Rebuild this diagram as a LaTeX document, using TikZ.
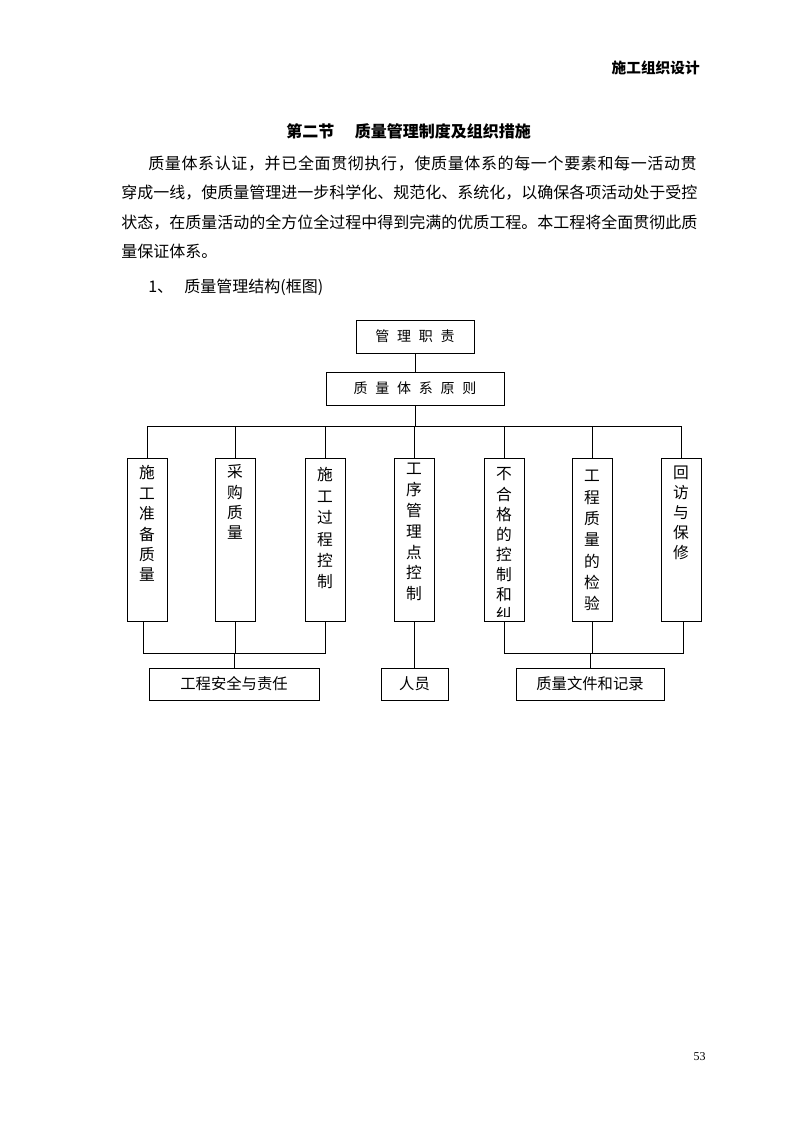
\documentclass[tikz,border=0pt]{standalone}
\usepackage{fontspec}
\setmainfont{Noto Sans CJK SC}
\newfontfamily\numfont{Liberation Serif}
\newcommand\vchars[5]{\foreach \c [count=\i] in {#5} {\node[vch] (#1c\i) at (#2,{#3+(\i-1)*#4}) {\c};}}
\tikzset{
  ln/.style={line width=0.75pt},
  box/.style={draw, line width=0.75pt, rectangle, inner sep=0pt},
  vbox/.style={box, minimum width=30pt, minimum height=122.25pt},
  vch/.style={inner sep=0pt, font=\fontsize{11.8pt}{11.8pt}\selectfont, text height=10.38pt, text depth=1.42pt},
  topbox/.style={box, minimum height=24.75pt, font=\fontsize{10.5pt}{10.5pt}\selectfont, text height=9.24pt, text depth=1.26pt},
  botbox/.style={box, minimum height=24pt, font=\fontsize{11.5pt}{11.5pt}\selectfont, text height=10.12pt, text depth=1.38pt},
  para/.style={inner sep=0pt, anchor=base west, font=\fontsize{12pt}{12pt}\selectfont},
}
\newcommand\gp{\hspace{5.8pt}}
\begin{document}
\begin{tikzpicture}[x=0.75pt,y=-0.75pt]
\useasboundingbox (0,0) rectangle (793,1122);
% header
\node[inner sep=0pt, anchor=base east, font=\fontsize{11pt}{11pt}\selectfont\bfseries] (hdr) at (700,73.6) {施工组织设计};
% title
\node[inner sep=0pt, anchor=base west, font=\fontsize{12pt}{12pt}\selectfont\bfseries] (title) at (286,137) {第二节\hspace{15.5pt}质量管理制度及组织措施};
% paragraph
\node[para] (p1) at (148,169) {\addfontfeature{LetterSpace=4}质量体系认证，并已全面贯彻执行，使质量体系的每一个要素和每一活动贯};
\node[para] (p2) at (121,198) {穿成一线，使质量管理进一步科学化、规范化、系统化，以确保各项活动处于受控};
\node[para] (p3) at (121,228) {状态，在质量活动的全方位全过程中得到完满的优质工程。本工程将全面贯彻此质};
\node[para] (p4) at (121,257) {量保证体系。};
\node[para] (p5) at (148,292) {1、\hspace{8.5pt}质量管理结构(框图)};
% top boxes
\node[topbox, minimum width=88.5pt] (t1) at (415,336.5) {管\gp 理\gp 职\gp 责};
\node[topbox, minimum width=133.5pt] (t2) at (415,388.5) {质\gp 量\gp 体\gp 系\gp 原\gp 则};
% vertical boxes
\node[vbox] (v1) at (147,539.5) {};
\node[vbox] (v2) at (235,539.5) {};
\node[vbox] (v3) at (325,539.5) {};
\node[vbox] (v4) at (414,539.5) {};
\node[vbox] (v5) at (504,539.5) {};
\node[vbox] (v6) at (592,539.5) {};
\node[vbox] (v7) at (681,539.5) {};
\vchars{v1}{147}{473}{20.4}{施,工,准,备,质,量}
\vchars{v2}{235}{472}{20.3}{采,购,质,量}
\vchars{v3}{325}{475}{21.4}{施,工,过,程,控,制}
\vchars{v4}{414}{469}{20.8}{工,序,管,理,点,控,制}
\begin{scope}
\clip (v5.north west) rectangle ([yshift=3.75pt]v5.south east);
\vchars{v5}{504}{474}{20.1}{不,合,格,的,控,制,和,纠}
\end{scope}
\vchars{v6}{592}{476}{21.3}{工,程,质,量,的,检,验}
\vchars{v7}{681}{473}{20}{回,访,与,保,修}
% bottom boxes
\node[botbox, minimum width=127.5pt] (b1) at (234,684) {工程安全与责任};
\node[botbox, minimum width=50.25pt] (b2) at (414.5,684) {人员};
\node[botbox, minimum width=111pt] (b3) at (590,684) {质量文件和记录};
% connectors
\coordinate (busT) at (0,426);
\coordinate (busB) at (0,653);
\draw[ln] (t1.south) -- (t2.north);
\draw[ln] (t2.south) -- (t2.south |- busT);
\draw[ln] (v1.north) -- (v1.north |- busT) -- (v7.north |- busT) -- (v7.north);
\foreach \k in {2,...,6} {\draw[ln] (v\k.north) -- (v\k.north |- busT);}
\draw[ln] ([xshift=-3pt]v1.south) -- ([xshift=-3pt]v1.south |- busB) -- (v3.south |- busB) -- (v3.south);
\draw[ln] (v2.south) -- (v2.south |- busB);
\draw[ln] (b1.north |- busB) -- (b1.north);
\draw[ln] (v4.south) -- (v4.south |- b2.north);
\draw[ln] (v5.south) -- (v5.south |- busB) -- ([xshift=1.5pt]v7.south |- busB) -- ([xshift=1.5pt]v7.south);
\draw[ln] (v6.south) -- (v6.south |- busB);
\draw[ln] (b3.north |- busB) -- (b3.north);
% page number
\node[inner sep=0pt, font=\numfont\fontsize{9pt}{9pt}\selectfont] (pg) at (699.5,1057) {53};
\end{tikzpicture}
\end{document}
